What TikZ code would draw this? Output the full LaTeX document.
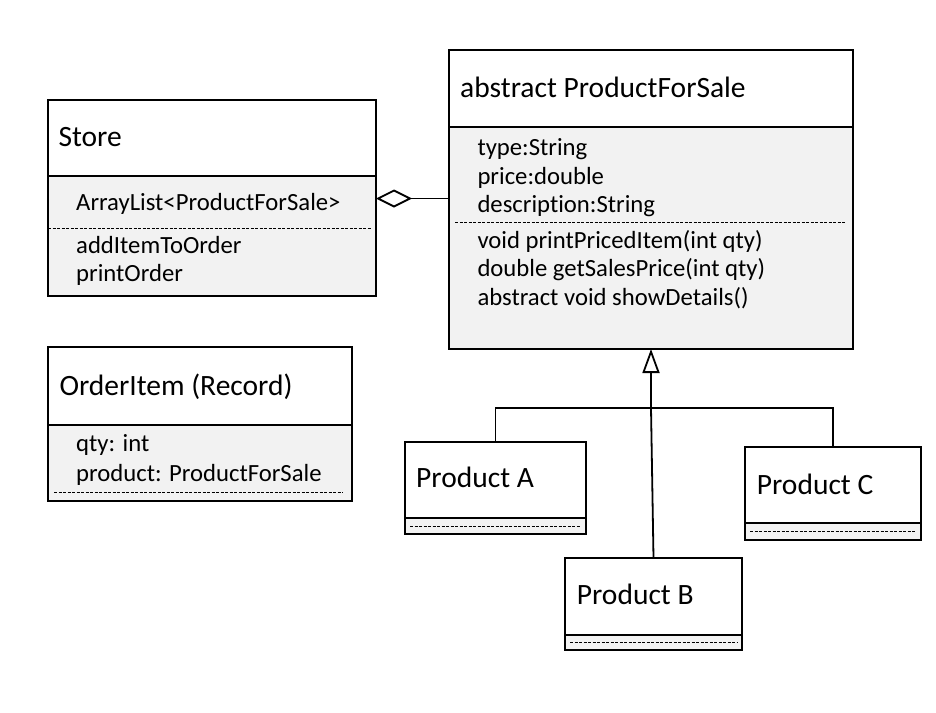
\documentclass[tikz,border=0pt]{standalone}
\usepackage{fontspec}
\setmainfont{Carlito}[Ligatures=NoCommon]
\usetikzlibrary{arrows.meta}
\definecolor{bodygray}{HTML}{F2F2F2}
\tikzset{
  hdr/.style={draw=black, line width=1.8pt, fill=white, inner sep=0pt, outer sep=0pt, anchor=north west},
  bdy/.style={draw=black, line width=1.8pt, fill=bodygray, inner sep=0pt, outer sep=0pt, anchor=north west},
  ttl/.style={anchor=base west, font=\fontsize{29.5}{34}\selectfont, inner sep=0pt},
  mem/.style={anchor=base west, font=\fontsize{24.7}{28}\selectfont, inner sep=0pt},
  sepline/.style={line width=1pt, dash pattern=on 3pt off 1.5pt},
  conn/.style={line width=1.8pt},
}
\begin{document}
\begin{tikzpicture}[x=1pt,y=-1pt]
\useasboundingbox (0,0) rectangle (936,712);

% Store
\node[hdr, minimum width=328pt, minimum height=76pt] (store-h) at (48,100) {};
\node[bdy, minimum width=328pt, minimum height=120pt] (store-b) at (48,176) {};
\draw[sepline] (store-b.west |- 0,228) -- ([xshift=-4pt]store-b.east |- 0,228);
\node[ttl] (store-t) at (58.3,146.7) {Store};
\node[mem] (store-m1) at (76,210.7) {ArrayList<ProductForSale>};
\node[mem] (store-m2) at (76,253.3) {addItemToOrder};
\node[mem] (store-m3) at (76,281.8) {printOrder};

% ProductForSale
\node[hdr, minimum width=404pt, minimum height=77pt] (pfs-h) at (449,50) {};
\node[bdy, minimum width=404pt, minimum height=222pt] (pfs-b) at (449,127) {};
\draw[sepline] ([xshift=6pt]pfs-b.west |- 0,222.5) -- ([xshift=-8pt]pfs-b.east |- 0,222.5);
\node[ttl] (pfs-t) at (460,97.3) {abstract ProductForSale};
\node[mem] (pfs-m1) at (477.3,155.5) {type:String};
\node[mem] (pfs-m2) at (477.3,184) {price:double};
\node[mem] (pfs-m3) at (477.3,212.5) {description:String};
\node[mem] (pfs-m4) at (477.3,248) {void printPricedItem(int qty)};
\node[mem] (pfs-m5) at (477.3,276.5) {double getSalesPrice(int qty)};
\node[mem] (pfs-m6) at (477.3,305) {abstract void showDetails()};

% OrderItem
\node[hdr, minimum width=304pt, minimum height=78pt] (oi-h) at (48,347) {};
\node[bdy, minimum width=304pt, minimum height=76pt] (oi-b) at (48,425) {};
\draw[sepline] ([xshift=6pt]oi-b.west |- 0,492) -- ([xshift=-9pt]oi-b.east |- 0,492);
\node[ttl] (oi-t) at (59.3,395) {OrderItem (Record)};
\node[mem] (oi-m1) at (76,451.7) {qty: int};
\node[mem] (oi-m2) at (76,481.7) {product: ProductForSale};

% Product A
\node[hdr, minimum width=181pt, minimum height=76pt] (a-h) at (405,442) {};
\node[bdy, minimum width=181pt, minimum height=16pt] (a-b) at (405,518) {};
\draw[sepline] ([xshift=5pt]a-b.west) -- ([xshift=-6pt]a-b.east);
\node[ttl] (a-t) at (416,487.7) {Product A};

% Product C
\node[hdr, minimum width=176pt, minimum height=76pt] (c-h) at (745,447) {};
\node[bdy, minimum width=176pt, minimum height=17pt] (c-b) at (745,523) {};
\draw[sepline] ([xshift=5pt]c-b.west) -- ([xshift=-5pt]c-b.east);
\node[ttl] (c-t) at (756.7,494.3) {Product C};

% Product B
\node[hdr, minimum width=177pt, minimum height=77pt] (b-h) at (565,558) {};
\node[bdy, minimum width=177pt, minimum height=15pt] (b-b) at (565,635) {};
\draw[sepline] ([xshift=5pt]b-b.west) -- ([xshift=-5pt]b-b.east);
\node[ttl] (b-t) at (576.7,604) {Product B};

% aggregation
\coordinate (aggy) at (0,198.5);
\draw[conn, {Diamond[open,length=36pt 0 0,width=18pt 0 0]}-] (store-b.east |- aggy) -- (pfs-b.west |- aggy);

% inheritance
\coordinate (jn) at (651,408);
\draw[conn, -{Triangle[open,length=24pt 0 0,width=17pt 0 0]}] (jn) -- (pfs-b.south);
\draw[conn] (a-h.north) |- (jn);
\draw[conn] (c-h.north) |- (jn);
\draw[conn] (b-h.north) -- (jn);
\end{tikzpicture}
\end{document}
